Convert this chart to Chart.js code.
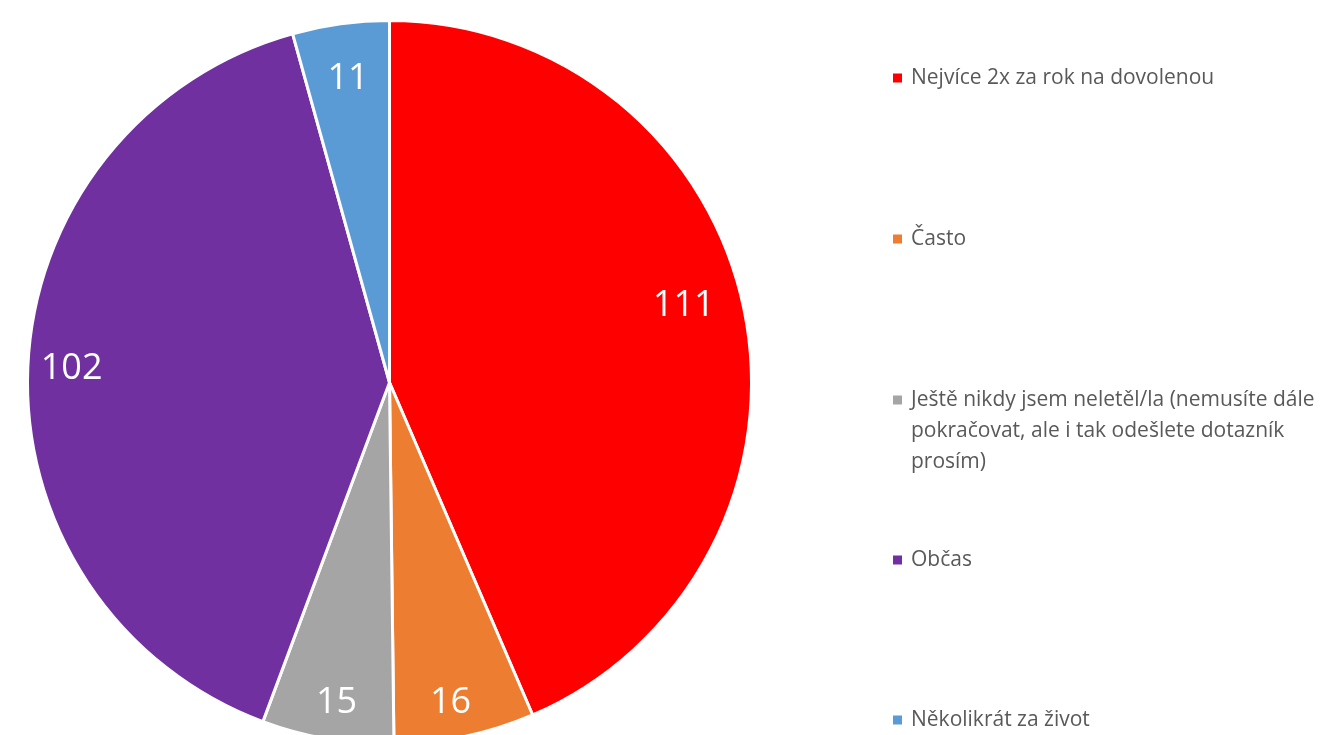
<!DOCTYPE html>
<html>
<head>
<meta charset="utf-8">
<script src="https://cdn.jsdelivr.net/npm/chart.js@4.4.1/dist/chart.umd.min.js"></script>
<style>
  html, body { margin: 0; padding: 0; background: #fff; overflow: hidden; }
  #wrap { position: absolute; left: 0; top: 0; width: 1326px; height: 760px; }
</style>
</head>
<body>
<div id="wrap"><canvas id="chart"></canvas></div>
<script>
const categories = [
  "Nejvíce 2x za rok na dovolenou",
  "Často",
  ["Ještě nikdy jsem neletěl/la (nemusíte dále", "pokračovat, ale i tak odešlete dotazník", "prosím)"],
  "Občas",
  "Několikrát za život"
];
const counts = [111, 16, 15, 102, 11];
const sliceColors = ["#ff0000", "#ed7d31", "#a5a5a5", "#7030a0", "#5b9bd5"];

// label placement: share of the radius and a small angle nudge (degrees)
const labelRadius = [0.84, 0.9, 0.896, 0.879, 0.848];
const labelNudge = [-3, 1.2, -0.5, 0, 0];
const legendRows = [78, 239, 400, 560, 720];

const valueLabels = {
  id: "valueLabels",
  afterDatasetsDraw(chart) {
    const ctx = chart.ctx;
    const meta = chart.getDatasetMeta(0);
    ctx.save();
    ctx.fillStyle = "#ffffff";
    ctx.font = "36px 'Open Sans'";
    ctx.textAlign = "center";
    ctx.textBaseline = "middle";
    meta.data.forEach((arc, i) => {
      const mid = (arc.startAngle + arc.endAngle) / 2 + labelNudge[i] * Math.PI / 180;
      const r = arc.outerRadius * labelRadius[i];
      ctx.fillText(String(chart.data.datasets[0].data[i]), arc.x + Math.cos(mid) * r, arc.y + Math.sin(mid) * r);
    });
    ctx.restore();
  }
};

const sideLegend = {
  id: "sideLegend",
  afterDraw(chart) {
    const ctx = chart.ctx;
    ctx.save();
    ctx.font = "21px 'Open Sans'";
    ctx.textBaseline = "middle";
    chart.data.labels.forEach((label, i) => {
      const y = legendRows[i];
      ctx.fillStyle = chart.data.datasets[0].backgroundColor[i];
      ctx.fillRect(893, y - 4.5, 9, 9);
      ctx.fillStyle = "#595959";
      const lines = Array.isArray(label) ? label : [label];
      lines.forEach((line, j) => ctx.fillText(line, 911, y + j * 31));
    });
    ctx.restore();
  }
};

new Chart(document.getElementById("chart"), {
  type: "pie",
  data: {
    labels: categories,
    datasets: [{
      data: counts,
      backgroundColor: sliceColors,
      borderColor: "#ffffff",
      borderWidth: 3
    }]
  },
  options: {
    responsive: true,
    maintainAspectRatio: false,
    animation: false,
    layout: { padding: { left: 26, top: 19, right: 573, bottom: 14 } },
    plugins: {
      legend: { display: false },
      tooltip: { enabled: false }
    }
  },
  plugins: [valueLabels, sideLegend]
});
</script>
</body>
</html>
